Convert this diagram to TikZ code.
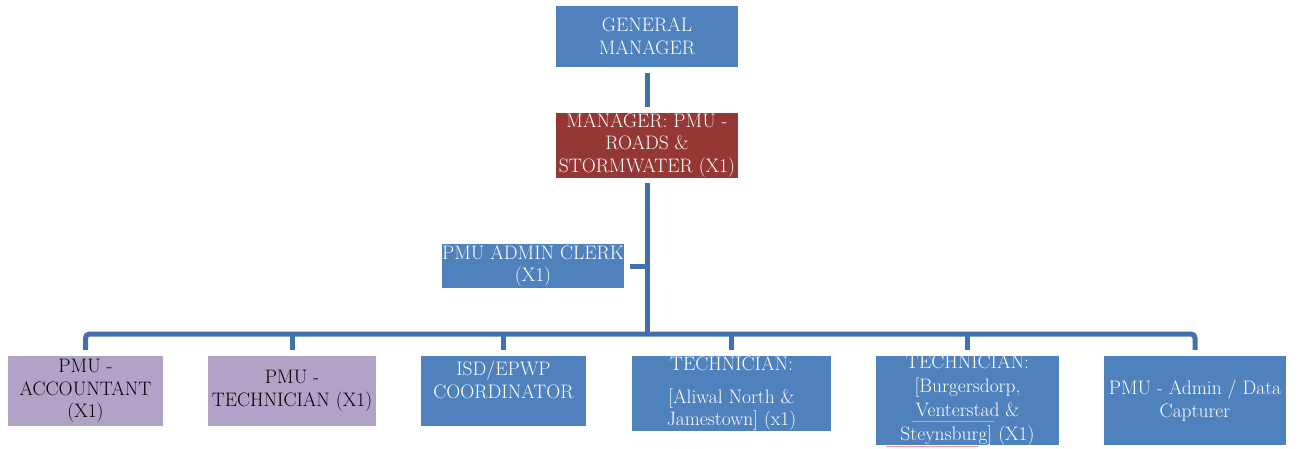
\documentclass[tikz,border=0pt]{standalone}
\usepackage{fontspec}
\usetikzlibrary{calc}
\definecolor{boxblue}{RGB}{79,129,189}
\definecolor{boxred}{RGB}{149,55,53}
\definecolor{boxlilac}{RGB}{179,162,199}
\definecolor{linkblue}{RGB}{66,113,170}
\definecolor{spellpink}{RGB}{240,150,150}
\begin{document}
\begin{tikzpicture}[x=1pt,y=-1pt,
  orgbox/.style={rectangle, inner sep=0pt, align=center, draw=none,
    font=\fontsize{19.5}{22.5}\selectfont},
  bluebox/.style={orgbox, fill=boxblue, text=white},
  redbox/.style={orgbox, fill=boxred, text=white},
  lilacbox/.style={orgbox, fill=boxlilac, text=black},
  conn/.style={draw=linkblue, line width=5pt},
  spell/.style={draw=spellpink, line width=0.8pt}]
\useasboundingbox (0,0) rectangle (1304,448);

% top of the chart
\node[bluebox, minimum width=182pt, minimum height=61pt] (gm) at (647,36.5)
  {GENERAL\\MANAGER};
\node[redbox, minimum width=182pt, minimum height=65pt] (mgr) at (647,145.5)
  {\fontsize{19.5}{23.5}\selectfont MANAGER: PMU -\\ROADS \&\\STORMWATER (X1)};
\node[bluebox, minimum width=182pt, minimum height=44pt] (clerk) at (533,266)
  {PMU ADMIN CLERK\\(X1)};

% bottom row
\node[lilacbox, minimum width=155pt, minimum height=70pt] (acc) at (85.5,391)
  {\fontsize{19.5}{21.5}\selectfont PMU -\\ACCOUNTANT\\(X1)};
\node[lilacbox, minimum width=168pt, minimum height=70pt] (tech) at (292,391)
  {PMU -\\TECHNICIAN (X1)};
\node[bluebox, minimum width=165pt, minimum height=70pt] (isd) at (503.5,391)
  {ISD/EPWP\\COORDINATOR\\\mbox{}};
\node[bluebox, minimum width=199pt, minimum height=75pt] (ali) at (731.5,393.5)
  {TECHNICIAN:\\[10.5pt]{[}Aliwal North \&\\Jamestown] (x1)};
\node[bluebox, minimum width=183pt, minimum height=89pt] (bur) at (967.5,400.5) {};
\begin{scope}
  \clip (bur.north west) rectangle (bur.south east);
  \node[orgbox, text=white, font=\fontsize{19.5}{24}\selectfont] (burtext) at (967.5,400.5)
    {TECHNICIAN:\\{[}Burgersdorp,\\Venterstad \&\\Steynsburg] (X1)};
\end{scope}
\draw[spell] (912,421) -- (994,421);
\draw[spell] (886,446.5) -- (978,446.5);
\node[bluebox, minimum width=182pt, minimum height=89pt] (adm) at (1195,400.5)
  {PMU - Admin / Data\\Capturer};

% connectors
\coordinate (busy) at (0,334);
\draw[conn] ($(gm.south)+(0,6)$) -- ($(mgr.north)+(0,-6)$);
\draw[conn] ($(mgr.south)+(0,5)$) -- (mgr.south |- busy);
\draw[conn] ($(clerk.east)+(6,0)$) -- (clerk.east -| mgr.south);
\draw[conn, rounded corners=4pt] ($(acc.north)+(0,-6)$) -- (acc.north |- busy)
  -- (adm.north |- busy) -- ($(adm.north)+(0,-6)$);
\foreach \c in {tech,isd,ali,bur}
  \draw[conn] (\c.north |- busy) -- ($(\c.north)+(0,-6)$);
\end{tikzpicture}
\end{document}
